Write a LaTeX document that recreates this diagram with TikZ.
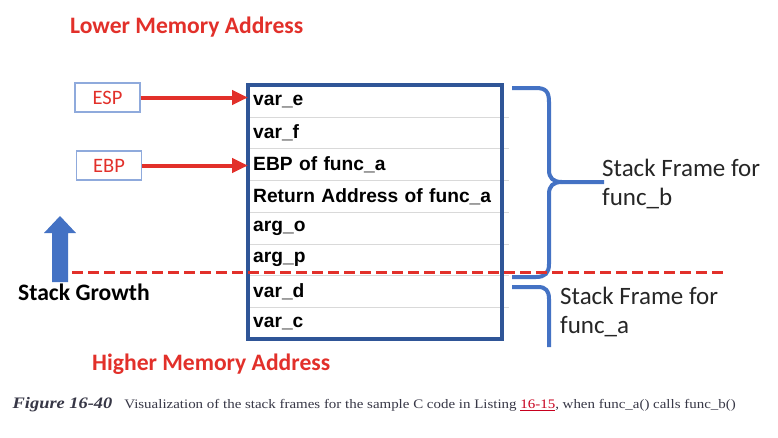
\documentclass[tikz,border=0pt]{standalone}
\usepackage{fontspec}
\usetikzlibrary{arrows.meta}
\newfontfamily\calib{Carlito}
\newfontfamily\arialf{Liberation Sans}
\newfontfamily\capserif[FakeStretch=1.15]{Liberation Serif}
\definecolor{memred}{RGB}{226,48,42}
\definecolor{tblue}{RGB}{47,85,151}
\definecolor{bblue}{RGB}{68,114,196}
\definecolor{boxblue}{RGB}{143,170,220}
\definecolor{sepgray}{RGB}{217,217,217}
\definecolor{linkred}{RGB}{200,0,30}
\definecolor{captext}{RGB}{55,55,70}
\begin{document}
\begin{tikzpicture}[x=1pt,y=-1pt,
  memlabel/.style={anchor=base west, text=memred, font=\calib\bfseries\fontsize{23.6}{26}\selectfont, inner sep=0},
  regbox/.style={draw=boxblue, line width=1.2pt, minimum width=65pt, minimum height=29pt, inner sep=0, text=memred, font=\calib\fontsize{20.5}{22}\selectfont},
  rowbox/.style={anchor=north west, minimum height=31.75pt, text width=244pt, inner xsep=5pt, inner ysep=0pt, align=left, font=\arialf\bfseries\fontsize{19.2}{21}\selectfont},
  ptr/.style={draw=memred, line width=4pt, -{Triangle[length=16pt,width=14pt]}},
  frametext/.style={anchor=base west, inner sep=0, font=\calib\fontsize{25}{28}\selectfont, text=black!85},
  brace/.style={draw=bblue, line width=4pt, line join=round},
  sep/.style={draw=sepgray, line width=1pt},
]
\useasboundingbox (0,0) rectangle (778,437);
\fill[white] (0,0) rectangle (778,437);

% memory address labels
\node[memlabel] (lower) at (70,33) {Lower Memory Address};
\node[memlabel] (higher) at (92,370) {Higher Memory Address};

% stack rows
\node[rowbox] (r1) at (248,85) {var\_e};
\node[rowbox] (r2) at (248,116.75) {var\_f};
\node[rowbox] (r3) at (248,148.5) {EBP of func\_a};
\node[rowbox] (r4) at (248,180.25) {Return Address of func\_a};
\node[rowbox] (r5) at (248,212) {arg\_o};
\node[rowbox] (r6) at (248,243.75) {arg\_p};
\node[rowbox] (r7) at (248,275.5) {var\_d};
\node[rowbox] (r8) at (248,307.25) {var\_c};

\foreach \r in {r1,r2,r3,r4,r5,r6,r7}
  \draw[sep] (\r.south west) -- ([xshift=7pt]\r.south east);
\draw[tblue, line width=4pt] (r1.north west) rectangle (r8.south east);

% registers
\node[regbox] (esp) at (107.5,97.5) {ESP};
\node[regbox] (ebp) at (109,165.5) {EBP};
\draw[ptr] (esp.east) -- (esp.east -| r1.west);
\draw[ptr] (ebp.east) -- (ebp.east -| r3.west);

% stack growth arrow
\fill[bblue] (52,282) -- (52,233) -- (44,233) -- (60,216) -- (76,233) -- (68,233) -- (68,282) -- cycle;
\node[anchor=base west, inner sep=0, font=\calib\bfseries\fontsize{23.6}{26}\selectfont] (growth) at (18,300) {Stack Growth};

% braces
\draw[brace] (512,88) -- (536,88) .. controls (546,88) and (549,92) .. (549,102)
  -- (549,170) .. controls (549,178) and (553,182) .. (562,182) -- (604,182);
\draw[brace] (562,182) .. controls (553,182) and (549,186) .. (549,194)
  -- (549,264) .. controls (549,273) and (545,277) .. (536,277) -- (512,277);
\draw[brace] (512,287) -- (538,287) .. controls (546,287) and (549,291) .. (549,299) -- (549,347);

\node[frametext] (fb1) at (602,176) {Stack Frame for};
\node[frametext] (fb2) at (602,205) {func\_b};
\node[frametext] (fa1) at (560,304) {Stack Frame for};
\node[frametext] (fa2) at (560,333) {func\_a};

% boundary dashed line
\coordinate (dl) at (72,272);
\coordinate (dr) at (728,272);
\draw[memred, line width=3pt, dash pattern=on 11pt off 5pt] (dl) -- (dr);

% caption
\node[anchor=base west, inner sep=0, text=captext] (cap) at (12.5,408.3)
  {\capserif\fontsize{16}{18}\selectfont\bfseries\itshape Figure 16-40\hspace{12pt}\mdseries\upshape\fontsize{13}{15}\selectfont Visualization of the stack frames for the sample C code in Listing \textcolor{linkred}{\underline{16-15}}, when func\_a() calls func\_b()};
\end{tikzpicture}
\end{document}
